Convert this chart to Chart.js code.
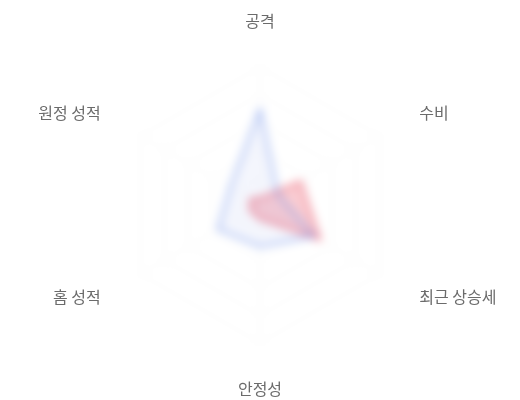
<!DOCTYPE html>
<html>
<head>
<meta charset="utf-8">
<script src="https://cdn.jsdelivr.net/npm/chart.js@4"></script>
<style>
  html, body { margin: 0; padding: 0; background: #fff; }
  #wrap { position: relative; width: 520px; height: 400px; }
  #blur {
    position: absolute; left: 110px; top: 40px; width: 302px; height: 325px;
    backdrop-filter: blur(5px); -webkit-backdrop-filter: blur(5px);
    pointer-events: none;
  }
</style>
</head>
<body>
<div id="wrap">
  <canvas id="chart" width="520" height="400"></canvas>
  <div id="blur"></div>
</div>
<script>
// axis labels, clockwise from top
const labels = ['공격', '수비', '최근 상승세', '안정성', '홈 성적', '원정 성적'];
// values (0-100)
const blueValues = [69, 15, 45, 30, 35, 25];
const redValues = [5, 34, 50, 10, 8, 8];

// labels sit centred on the end of each axis, left/right aligned on the sides
const outerLabels = {
    id: 'outerLabels',
    afterDraw(chart) {
        const scale = chart.scales.r;
        const c = chart.ctx;
        c.save();
        c.font = "16px 'Noto Sans CJK KR', sans-serif";
        c.fillStyle = '#6b6b6b';
        c.textBaseline = 'middle';
        labels.forEach(function(txt, i){
            const p = scale.getPointPosition(i, scale.drawingArea + 46);
            const dx = p.x - scale.xCenter;
            c.textAlign = Math.abs(dx) < 1 ? 'center' : (dx > 0 ? 'left' : 'right');
            c.fillText(txt, p.x, p.y);
        });
        c.restore();
    }
};

chartIt();

function chartIt(){
    const ctx = document.getElementById('chart');
    const myChart = new Chart(ctx, {
        type: 'radar',
        data: {
            labels: labels,
            datasets: [{
                label: 'A',
                data: blueValues,
                borderColor: 'rgba(110, 145, 235, 0.85)',
                backgroundColor: 'rgba(110, 145, 235, 0.08)',
                borderWidth: 2,
                pointRadius: 0
            }, {
                label: 'B',
                data: redValues,
                borderColor: 'rgba(235, 85, 105, 0.9)',
                backgroundColor: 'rgba(235, 85, 105, 0.3)',
                borderWidth: 2,
                pointRadius: 0
            }]
        },
        options: {
            responsive: false,
            animation: false,
            layout: { padding: { top: 67, bottom: 57, left: 0, right: 0 } },
            plugins: {
                legend: { display: false },
                tooltip: { enabled: false }
            },
            scales: {
                r: {
                    min: 0,
                    max: 100,
                    ticks: { display: false, stepSize: 20 },
                    grid: { color: 'rgba(0, 0, 0, 0.035)' },
                    angleLines: { color: 'rgba(0, 0, 0, 0.035)' },
                    pointLabels: { display: false }
                }
            }
        },
        plugins: [outerLabels]
    });
}
</script>
</body>
</html>
